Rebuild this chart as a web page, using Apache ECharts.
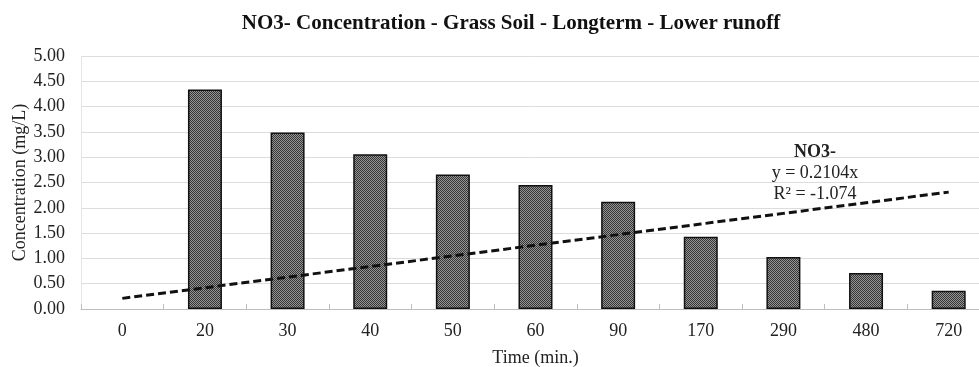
<!DOCTYPE html>
<html>
<head>
<meta charset="utf-8">
<script src="https://cdn.jsdelivr.net/npm/echarts@6/dist/echarts.min.js"></script>
<style>
  html, body { margin: 0; padding: 0; background: #fff; }
  #chart { width: 979px; height: 367px; }
</style>
</head>
<body>
<div id="chart"></div>
<script>
// Sampling times (min.)
const categories = ['0', '20', '30', '40', '50', '60', '90', '170', '290', '480', '720'];
// NO3- concentration (mg/L) per sampling time
const concentration = [null, 4.34, 3.49, 3.06, 2.66, 2.45, 2.12, 1.43, 1.03, 0.71, 0.36];
// Linear trendline y = 0.2104x over the category index
const trend = [0.21, 0.42, 0.63, 0.84, 1.05, 1.26, 1.47, 1.68, 1.89, 2.10, 2.31];
const yTicks = ['0.00', '0.50', '1.00', '1.50', '2.00', '2.50', '3.00', '3.50', '4.00', '4.50', '5.00'];
// Trendline annotation
const trendNote = ['NO3-', 'y = 0.2104x', 'R² = -1.074'];

const SERIF = '"Liberation Serif", "DejaVu Serif", serif';

// Small checker pattern for the bar fill
function makePattern() {
  const c = document.createElement('canvas');
  c.width = 2; c.height = 2;
  const g = c.getContext('2d');
  g.fillStyle = '#959595'; g.fillRect(0, 0, 2, 2);
  g.fillStyle = '#353535';
  g.fillRect(0, 0, 1, 1); g.fillRect(1, 1, 1, 1);
  return c;
}

const chart = echarts.init(document.getElementById('chart'));
chart.setOption({
  animation: false,
  backgroundColor: '#fff',
  title: {
    text: 'NO3- Concentration - Grass Soil - Longterm - Lower runoff',
    left: 506, top: 8, textAlign: 'center',
    textStyle: { fontFamily: SERIF, fontWeight: 'bold', fontSize: 21, color: '#111' }
  },
  grid: { left: 81, top: 56, width: 909, height: 253, outerBoundsMode: 'none' },
  xAxis: {
    type: 'category',
    data: categories,
    name: 'Time (min.)',
    nameLocation: 'middle',
    nameGap: 40,
    nameTextStyle: { fontFamily: SERIF, fontSize: 18, color: '#222' },
    axisLine: { lineStyle: { color: '#bdbdbd', width: 1 } },
    axisTick: { show: true, inside: true, length: 5, lineStyle: { color: '#bdbdbd' } },
    axisLabel: { fontFamily: SERIF, fontSize: 18, color: '#222', margin: 13 }
  },
  yAxis: {
    type: 'value',
    min: 0, max: 5, interval: 0.5,
    name: 'Concentration (mg/L)',
    nameLocation: 'middle',
    nameGap: 52,
    nameRotate: 90,
    nameMoveOverlap: false,
    nameTextStyle: { fontFamily: SERIF, fontSize: 18, color: '#222' },
    axisLine: { show: true, lineStyle: { color: '#e6e6e6' } },
    axisTick: { show: false },
    axisLabel: {
      fontFamily: SERIF, fontSize: 18, color: '#222', margin: 16,
      formatter: (v) => yTicks[Math.round(v / 0.5)]
    },
    splitLine: { lineStyle: { color: '#dcdcdc', width: 1 } }
  },
  series: [
    {
      type: 'bar',
      data: concentration,
      barWidth: 34,
      itemStyle: {
        color: { image: makePattern(), repeat: 'repeat' },
        borderColor: '#111',
        borderWidth: 1.5
      }
    },
    {
      type: 'line',
      data: trend,
      symbol: 'none',
      z: 5,
      lineStyle: { color: '#111', width: 3, type: [8, 4] }
    }
  ],
  graphic: trendNote.map((t, i) => ({
    type: 'text', x: 815, y: 152 + i * 21, z: 10,
    style: {
      text: t, align: 'center', verticalAlign: 'middle',
      font: (i === 0 ? 'bold ' : '') + '18px ' + SERIF, fill: '#222'
    }
  }))
});
</script>
</body>
</html>
